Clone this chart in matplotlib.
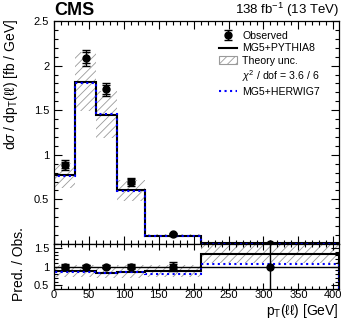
import numpy as np
import matplotlib
matplotlib.use("Agg")
import matplotlib.pyplot as plt
from matplotlib.lines import Line2D
from matplotlib.patches import Patch
from matplotlib.ticker import MultipleLocator, FixedLocator

plt.rcParams['font.family'] = ['Liberation Sans', 'DejaVu Sans']
plt.rcParams['mathtext.fontset'] = 'custom'
plt.rcParams['mathtext.rm'] = 'Liberation Sans'
plt.rcParams['mathtext.it'] = 'Liberation Sans:italic'
plt.rcParams['hatch.linewidth'] = 0.6

# pT(ll) bins [GeV]
edges = np.array([0, 30, 60, 90, 130, 210, 408])
obs = np.array([0.885, 2.09, 1.735, 0.70, 0.107, 0.0045])
obs_tot = np.array([0.055, 0.09, 0.075, 0.045, 0.013, 0.004])
obs_stat = np.array([0.035, 0.06, 0.05, 0.03, 0.008, 0.0035])
pythia = np.array([0.77, 1.82, 1.45, 0.60, 0.095, 0.006])
theo_unc = np.array([0.14, 0.33, 0.26, 0.12, 0.017, 0.0011])
herwig = np.array([0.765, 1.81, 1.455, 0.595, 0.086, 0.0048])

centers = 0.5 * (edges[:-1] + edges[1:])
blue = '#0000ff'
hatch_col = '#9a9a9a'

fig = plt.figure(figsize=(3.49, 3.19), dpi=100)
ax = fig.add_axes([0.155, 0.2351, 0.816, 0.699])
axr = fig.add_axes([0.155, 0.094, 0.816, 0.1411])

# upper panel
ax.stairs(pythia + theo_unc, edges, baseline=pythia - theo_unc, fill=True,
          facecolor='none', edgecolor=hatch_col, hatch='////', linewidth=0)
ax.stairs(pythia, edges, color='black', linewidth=1.5)
ax.stairs(herwig, edges, color=blue, linewidth=1.5, linestyle=':')
ax.errorbar(centers, obs, yerr=obs_stat, fmt='none', ecolor='black',
            capsize=3, elinewidth=0)
eb = ax.errorbar(centers, obs, yerr=obs_tot, fmt='o', color='black',
                 markersize=5, capsize=3, elinewidth=1)

ax.set_xlim(0, 408)
ax.set_ylim(0, 2.5)
ax.yaxis.set_major_locator(FixedLocator([0.5, 1, 1.5, 2, 2.5]))
ax.yaxis.set_minor_locator(MultipleLocator(0.1))
ax.xaxis.set_major_locator(MultipleLocator(50))
ax.xaxis.set_minor_locator(MultipleLocator(10))
ax.set_yticklabels(['0.5', '1', '1.5', '2', '2.5'])
ax.tick_params(labelbottom=False)
ax.set_ylabel(r'd$\sigma$ / dp$_{\mathrm{T}}$(ℓℓ) [fb / GeV]', fontsize=10,
              loc='top')
ax.yaxis.set_label_coords(-0.118, 1.01)

handles = [eb,
           Line2D([], [], color='black', lw=1.5),
           Patch(facecolor='white', edgecolor=hatch_col, hatch='////', lw=0.8),
           Line2D([], [], color='none'),
           Line2D([], [], color=blue, lw=1.5, ls=':')]
labels = ['Observed', 'MG5+PYTHIA8', 'Theory unc.',
          r'$\chi^2$ / dof = 3.6 / 6', 'MG5+HERWIG7']
ax.legend(handles, labels, loc='upper left', bbox_to_anchor=(0.565, 0.975),
          frameon=False, fontsize=7.6, handlelength=1.7, handletextpad=0.5,
          labelspacing=0.24, borderaxespad=0)

ax.text(0.0, 1.01, 'CMS', transform=ax.transAxes, fontsize=13,
        fontweight='bold', ha='left', va='bottom')
ax.text(1.0, 1.01, r'138 fb$^{-1}$ (13 TeV)', transform=ax.transAxes,
        fontsize=9.5, ha='right', va='bottom')

# ratio panel
r_py = pythia / obs
r_hw = herwig / obs
r_unc = theo_unc / obs
axr.stairs(r_py + r_unc, edges, baseline=r_py - r_unc, fill=True,
           facecolor='none', edgecolor=hatch_col, hatch='////', linewidth=0)
axr.axhline(1, color='black', lw=1)
axr.stairs(r_py, edges, color='black', linewidth=1.5)
axr.stairs(r_hw, edges, color=blue, linewidth=1.5, linestyle=':')
axr.errorbar(centers, np.ones_like(obs), yerr=obs_stat / obs, fmt='none',
             ecolor='black', capsize=3, elinewidth=0)
axr.errorbar(centers, np.ones_like(obs), yerr=obs_tot / obs, fmt='o',
             color='black', markersize=5, capsize=3, elinewidth=1)

axr.set_xlim(0, 408)
axr.set_ylim(0.4, 1.6)
axr.yaxis.set_major_locator(FixedLocator([0.5, 1, 1.5]))
axr.set_yticklabels(['0.5', '1', '1.5'])
axr.yaxis.set_minor_locator(MultipleLocator(0.1))
axr.xaxis.set_major_locator(MultipleLocator(50))
axr.xaxis.set_minor_locator(MultipleLocator(10))
axr.set_ylabel('Pred. / Obs.', fontsize=10)
axr.yaxis.set_label_coords(-0.1, 0.55)
axr.set_xlabel(r'p$_{\mathrm{T}}$(ℓℓ) [GeV]', fontsize=10, loc='right')
axr.xaxis.set_label_coords(1.0, -0.29)

for a in (ax, axr):
    a.tick_params(which='both', direction='in', top=True, right=True,
                  labelsize=8, width=0.8)
    a.tick_params(which='major', length=6)
    a.tick_params(which='minor', length=3)
    for s in a.spines.values():
        s.set_linewidth(0.9)
axr.tick_params(axis='x', which='major', length=4, pad=0.5)
axr.tick_params(axis='x', which='minor', length=2)

fig.savefig('out.png', dpi=100)
